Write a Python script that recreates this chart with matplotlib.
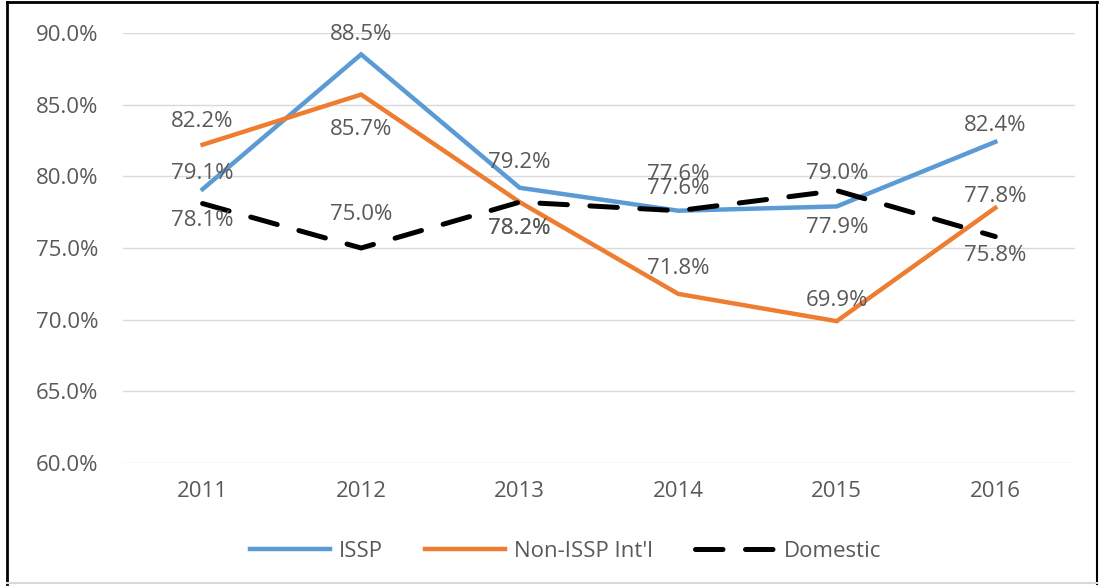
import matplotlib.pyplot as plt
from matplotlib.lines import Line2D

years = ["2011", "2012", "2013", "2014", "2015", "2016"]
issp = [79.1, 88.5, 79.2, 77.6, 77.9, 82.4]
non_issp = [82.2, 85.7, 78.2, 71.8, 69.9, 77.8]
domestic = [78.1, 75.0, 78.2, 77.6, 79.0, 75.8]

# label vertical offsets (points) for each data label
issp_off = [11.5, 14, 18, 26, -15.5, 11.5]
non_issp_off = [17, -25, -19, 18, 15, 8]
domestic_off = [-12, 24, -19, 16, 12.5, -14]

plt.rcParams["font.family"] = ["Open Sans", "DejaVu Sans"]
grey = "#595959"

fig = plt.figure(figsize=(11.01, 5.87), dpi=100)
ax = fig.add_axes([0.112, 0.211, 0.864, 0.733])

x = range(len(years))
ax.plot(x, issp, color="#5B9BD5", lw=3.2, solid_joinstyle="miter", label="ISSP")
ax.plot(x, non_issp, color="#ED7D31", lw=3.2, solid_joinstyle="miter", label="Non-ISSP Int'l")
ax.plot(x, domestic, color="black", lw=3.6, dashes=(5.5, 4.5), dash_capstyle="round",
        label="Domestic")

for vals, offs in [(issp, issp_off), (non_issp, non_issp_off), (domestic, domestic_off)]:
    for i, (v, o) in enumerate(zip(vals, offs)):
        ax.annotate(f"{v:.1f}%", (i, v), xytext=(0, o), textcoords="offset points",
                    ha="center", va="center", fontsize=16, color=grey)

ax.set_xlim(-0.5, len(years) - 0.5)
ax.set_ylim(60, 90)
ax.set_yticks(range(60, 91, 5))
ax.set_yticklabels([f"{t:.1f}%" for t in range(60, 91, 5)])
ax.set_xticks(list(x))
ax.set_xticklabels(years)
ax.tick_params(length=0, labelsize=16, labelcolor=grey, pad=18)
ax.tick_params(axis="x", pad=13)
ax.grid(axis="y", color="#D9D9D9", lw=1)
ax.set_axisbelow(True)
for s in ax.spines.values():
    s.set_visible(False)

ax.legend(loc="center", bbox_to_anchor=(0.465, -0.205), ncol=3, frameon=False,
          fontsize=16, labelcolor=grey, handlelength=3.6, columnspacing=1.9,
          handletextpad=0.4)

# chart border
fig.add_artist(Line2D([0.006, 0.006], [0.005, 0.996], color="black", lw=2))
fig.add_artist(Line2D([0.006, 0.996], [0.996, 0.996], color="black", lw=2))
fig.add_artist(Line2D([0.996, 0.996], [0.005, 0.996], color="black", lw=1.5))
fig.add_artist(Line2D([0.006, 0.996], [0.006, 0.006], color="#D9D9D9", lw=1.5))

fig.savefig("out.png", dpi=100)
